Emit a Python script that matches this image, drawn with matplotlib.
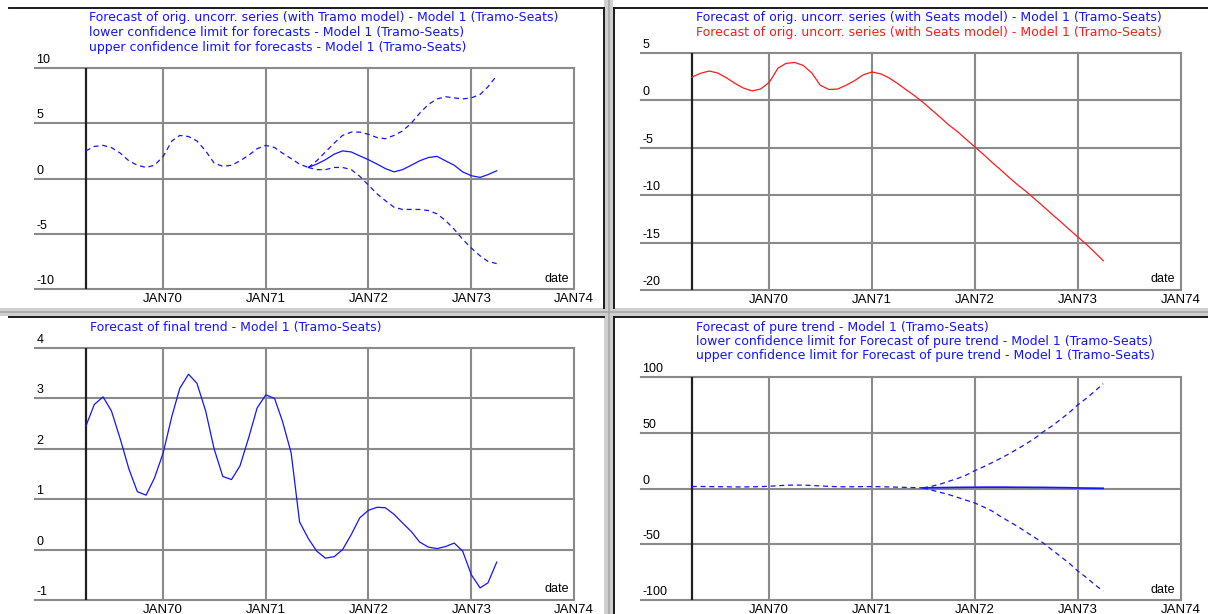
import pandas as pd
import matplotlib
matplotlib.use("Agg")
from matplotlib import pyplot as plt
from matplotlib.lines import Line2D
from matplotlib.patches import Rectangle

plt.rcParams['font.family'] = ['Liberation Sans', 'DejaVu Sans']

W, H = 1208, 614

# monthly dates, APR69 .. APR73
months = pd.date_range("1969-04-01", periods=49, freq="MS")
years = pd.to_datetime(["1970-01-01", "1971-01-01", "1972-01-01", "1973-01-01", "1974-01-01"])
year_labels = ["JAN70", "JAN71", "JAN72", "JAN73", "JAN74"]

# panel 1: tramo forecast
orig_hist = [2.5, 2.9, 3.0, 2.8, 2.3, 1.6, 1.2, 1.0, 1.2, 2.0, 3.4, 3.9, 3.8, 3.4, 2.5,
             1.4, 1.1, 1.2, 1.6, 2.1, 2.7, 3.0, 2.8, 2.3, 1.8, 1.3, 1.0]
tramo_fc = [1.0, 1.3, 1.7, 2.2, 2.5, 2.4, 2.05, 1.7, 1.3, 0.9, 0.6, 0.8, 1.2, 1.6, 1.9,
            2.0, 1.6, 1.2, 0.6, 0.25, 0.1, 0.35, 0.7]
tramo_lo = [1.0, 0.8, 0.8, 1.0, 1.0, 0.8, 0.2, -0.6, -1.4, -2.0, -2.6, -2.8, -2.8, -2.8,
            -2.9, -3.2, -3.8, -4.6, -5.5, -6.3, -7.0, -7.5, -7.7]
tramo_hi = [1.0, 1.6, 2.4, 3.2, 3.9, 4.2, 4.2, 4.0, 3.7, 3.6, 3.9, 4.3, 5.0, 5.9, 6.7,
            7.2, 7.4, 7.3, 7.2, 7.3, 7.6, 8.3, 9.3]

# panel 2: seats forecast
seats = [2.45, 2.85, 3.1, 2.9, 2.4, 1.8, 1.3, 1.0, 1.2, 1.9,
         3.4, 3.9, 4.0, 3.7, 2.9, 1.6, 1.15, 1.2, 1.6, 2.1,
         2.7, 3.0, 2.8, 2.4, 1.8, 1.15, 0.5, -0.2, -1.0, -1.8,
         -2.6, -3.3, -4.1, -4.9, -5.7, -6.5, -7.3, -8.1, -8.9, -9.6,
         -10.4, -11.2, -12.0, -12.8, -13.6, -14.4, -15.2, -16.0, -16.9]

# panel 3: final trend
final_trend = [2.45, 2.88, 3.03, 2.75, 2.2, 1.6, 1.15, 1.08, 1.42, 1.92,
               2.65, 3.2, 3.48, 3.3, 2.75, 2.0, 1.45, 1.39, 1.66, 2.22,
               2.81, 3.07, 3.0, 2.55, 1.92, 0.55, 0.22, -0.03, -0.17, -0.14,
               0.0, 0.3, 0.63, 0.78, 0.84, 0.83, 0.70, 0.53, 0.36, 0.15,
               0.05, 0.02, 0.06, 0.13, -0.03, -0.5, -0.76, -0.66, -0.25]

# panel 4: pure trend
pure_hist = [1.8, 1.8, 1.7, 1.6, 1.5, 1.4, 1.4, 1.5, 1.7, 2.0, 2.5, 2.9, 3.1, 3.0,
             2.7, 2.3, 1.9, 1.6, 1.5, 1.6, 1.7, 1.7, 1.6, 1.4, 1.2, 1.0, 0.8, 0.6]
pure_fc = [0.6, 0.7, 0.8, 0.9, 1.0, 1.1, 1.1, 1.2, 1.2, 1.2, 1.2, 1.1, 1.1, 1.0, 1.0,
           0.9, 0.8, 0.7, 0.5, 0.4, 0.3, 0.2]
pure_hi = [0.6, 2, 4, 6.5, 9, 12, 16, 19.5, 23, 27, 31, 35.5, 40, 45, 51, 56, 62, 68,
           75, 81, 87, 94]
pure_lo = [0.6, -1.5, -3.5, -5.5, -8, -10.5, -13, -16.5, -20, -25, -29.5, -34, -39,
           -44, -49, -55, -61, -67, -74, -80, -86, -92]

BLUE = "#1414ff"
RED = "#ff1a1a"
GRID = "#8a8a8a"
DASH = (0, (4, 3))
TITLE_FONT = dict(family="DejaVu Sans", size=9)
YFS = 9
XFS = 9.5

fig = plt.figure(figsize=(W / 100, H / 100), dpi=100)


def fx(x):
    return x / W


def fy(y):
    return 1 - y / H


def make_axes(x0, y0, x1, y1, ylim, yticks):
    ax = fig.add_axes([fx(x0), fy(y1), (x1 - x0) / W, (y1 - y0) / H])
    ax.set_xlim(pd.Timestamp("1968-10-01"), pd.Timestamp("1974-01-01"))
    ax.set_ylim(*ylim)
    for s in ax.spines.values():
        s.set_visible(False)
    ax.set_yticks([])
    ax.set_xticks(years)
    ax.set_xticklabels(year_labels)
    ax.tick_params(axis="x", length=0, pad=3, labelsize=XFS)
    for v in yticks:
        ax.axhline(v, color=GRID, lw=1.5, clip_on=False, zorder=0)
        ax.annotate(str(v), xy=(0, v), xycoords=("axes fraction", "data"),
                    xytext=(1.5, 8), textcoords="offset pixels",
                    ha="left", va="center", fontsize=YFS)
    for d in years:
        ax.axvline(d, color=GRID, lw=1.5, clip_on=False, zorder=0)
    ax.axvline(months[0], color="#202020", lw=1.6, zorder=1)
    ax.text(0.99, 0.02, "date", transform=ax.transAxes, ha="right", va="bottom",
            fontsize=YFS)
    return ax


def legend_lines(x, y, lines):
    for i, (txt, col) in enumerate(lines):
        fig.text(fx(x), fy(y + i * 14.5), txt, color=col, ha="left", va="center",
                 **TITLE_FONT)


# window frame
for r in [Rectangle((fx(604), 0), 9 / W, 1), Rectangle((0, fy(316)), 1, 8 / H)]:
    r.set_transform(fig.transFigure)
    r.set_facecolor("#cfcfcf")
    r.set_edgecolor("none")
    fig.add_artist(r)
fig.add_artist(Line2D([fx(608.5)] * 2, [0, 1], transform=fig.transFigure, color="#a8a8a8", lw=1.2))
fig.add_artist(Line2D([0, 1], [fy(312)] * 2, transform=fig.transFigure, color="#a8a8a8", lw=1.2))
for seg in [((9, 8), (604, 8)), ((614, 8), (1208, 8)), ((603.5, 8), (603.5, 308)),
            ((614, 8), (614, 308)), ((9, 317), (604, 317)), ((614, 317), (1208, 317)),
            ((614, 317), (614, 614))]:
    (xa, ya), (xb, yb) = seg
    fig.add_artist(Line2D([fx(xa), fx(xb)], [fy(ya), fy(yb)], transform=fig.transFigure,
                          color="#1a1a1a", lw=1.4))

# panel 1
ax1 = make_axes(34.7, 68, 574, 289, (-10, 10), [10, 5, 0, -5, -10])
ax1.plot(months[:27], orig_hist, color=BLUE, lw=0.9, ls=DASH)
ax1.plot(months[26:], tramo_lo, color=BLUE, lw=0.9, ls=DASH)
ax1.plot(months[26:], tramo_hi, color=BLUE, lw=0.9, ls=DASH)
ax1.plot(months[26:], tramo_fc, color=BLUE, lw=0.9)
legend_lines(88.6, 18, [
    ("Forecast of orig. uncorr. series (with Tramo model) - Model 1 (Tramo-Seats)", BLUE),
    ("lower confidence limit for forecasts - Model 1 (Tramo-Seats)", BLUE),
    ("upper confidence limit for forecasts - Model 1 (Tramo-Seats)", BLUE)])

# panel 2 (the blue series lies under the red one)
ax2 = make_axes(640.6, 53, 1180.6, 290, (-20, 5), [5, 0, -5, -10, -15, -20])
ax2.plot(months, seats, color=RED, lw=0.9)
legend_lines(695.7, 18, [
    ("Forecast of orig. uncorr. series (with Seats model) - Model 1 (Tramo-Seats)", BLUE),
    ("Forecast of orig. uncorr. series (with Seats model) - Model 1 (Tramo-Seats)", RED)])

# panel 3
ax3 = make_axes(34.7, 348, 574, 600, (-1, 4), [4, 3, 2, 1, 0, -1])
ax3.plot(months, final_trend, color=BLUE, lw=0.9)
legend_lines(89.7, 327, [("Forecast of final trend - Model 1 (Tramo-Seats)", BLUE)])

# panel 4
ax4 = make_axes(640.6, 377, 1180.6, 600, (-100, 100), [100, 50, 0, -50, -100])
ax4.plot(months[:28], pure_hist, color=BLUE, lw=0.9, ls=DASH)
ax4.plot(months[27:], pure_lo, color=BLUE, lw=0.9, ls=DASH)
ax4.plot(months[27:], pure_hi, color=BLUE, lw=0.9, ls=DASH)
ax4.plot(months[27:], pure_fc, color=BLUE, lw=1.2)
legend_lines(696, 327, [
    ("Forecast of pure trend - Model 1 (Tramo-Seats)", BLUE),
    ("lower confidence limit for Forecast of pure trend - Model 1 (Tramo-Seats)", BLUE),
    ("upper confidence limit for Forecast of pure trend - Model 1 (Tramo-Seats)", BLUE)])

fig.savefig("out.png", dpi=100)
